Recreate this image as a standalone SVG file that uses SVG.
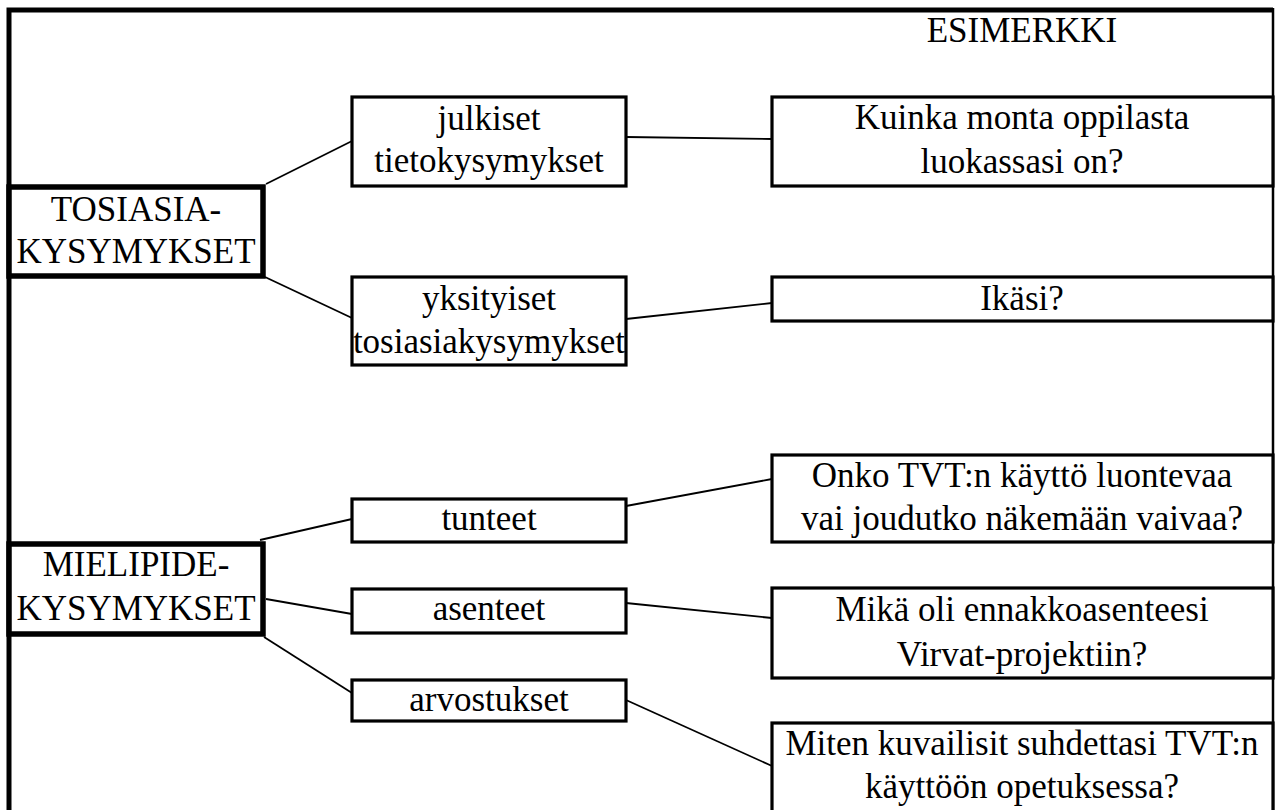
<svg xmlns="http://www.w3.org/2000/svg" width="1275" height="810" viewBox="0 0 1275 810">
<style>
text{font-family:"Liberation Serif","Times New Roman",serif;font-size:35px;fill:#000;text-anchor:middle}
.main{fill:#fff;stroke:#000;stroke-width:5.5}
.box{fill:#fff;stroke:#000;stroke-width:3.2}
.conn line{stroke:#000;stroke-width:1.8}
</style>
<rect width="1275" height="810" fill="#fff"/>
<path d="M9,812 V10 H1273" fill="none" stroke="#000" stroke-width="5"/>
<line x1="1273" y1="8" x2="1273" y2="812" stroke="#000" stroke-width="2.5"/>
<text x="1022" y="42">ESIMERKKI</text>
<g class="conn" id="connectors">
<line x1="266" y1="184" x2="352" y2="141"/>
<line x1="626" y1="137" x2="772" y2="139"/>
<line x1="265" y1="277" x2="352" y2="318"/>
<line x1="626" y1="319" x2="772" y2="303"/>
<line x1="260" y1="540" x2="352" y2="519"/>
<line x1="626" y1="506" x2="772" y2="479"/>
<line x1="266" y1="599" x2="352" y2="614"/>
<line x1="626" y1="603" x2="772" y2="618"/>
<line x1="264" y1="637" x2="352" y2="693"/>
<line x1="626" y1="700" x2="772" y2="766"/>
</g>
<g id="tosiasia">
<rect class="main" x="9" y="187" width="254" height="89"/>
<text x="136" y="221">TOSIASIA-</text>
<text x="136" y="263">KYSYMYKSET</text>
</g>
<g id="mielipide">
<rect class="main" x="9" y="544" width="254" height="90"/>
<text x="136" y="576">MIELIPIDE-</text>
<text x="136" y="620">KYSYMYKSET</text>
</g>
<g id="julkiset">
<rect class="box" x="352" y="97" width="274" height="89"/>
<text x="489" y="130">julkiset</text>
<text x="489" y="172">tietokysymykset</text>
</g>
<g id="yksityiset">
<rect class="box" x="352" y="277" width="274" height="88"/>
<text x="489" y="310">yksityiset</text>
<text x="489" y="353">tosiasiakysymykset</text>
</g>
<g id="tunteet">
<rect class="box" x="352" y="499" width="274" height="43"/>
<text x="489" y="530">tunteet</text>
</g>
<g id="asenteet">
<rect class="box" x="352" y="589" width="274" height="44"/>
<text x="489" y="620">asenteet</text>
</g>
<g id="arvostukset">
<rect class="box" x="352" y="680" width="274" height="41"/>
<text x="489" y="711">arvostukset</text>
</g>
<g id="kuinka">
<rect class="box" x="772" y="97" width="501" height="89"/>
<text x="1022" y="129">Kuinka monta oppilasta</text>
<text x="1022" y="173">luokassasi on?</text>
</g>
<g id="ikasi">
<rect class="box" x="772" y="277" width="501" height="44"/>
<text x="1022" y="310">Ikäsi?</text>
</g>
<g id="onko">
<rect class="box" x="772" y="455" width="501" height="87"/>
<text x="1022" y="487">Onko TVT:n käyttö luontevaa</text>
<text x="1022" y="530">vai joudutko näkemään vaivaa?</text>
</g>
<g id="mika">
<rect class="box" x="772" y="588" width="501" height="90"/>
<text x="1022" y="621">Mikä oli ennakkoasenteesi</text>
<text x="1022" y="666">Virvat-projektiin?</text>
</g>
<g id="miten">
<rect class="box" x="772" y="723" width="501" height="100"/>
<text x="1022" y="755">Miten kuvailisit suhdettasi TVT:n</text>
<text x="1022" y="798">käyttöön opetuksessa?</text>
</g>
</svg>
